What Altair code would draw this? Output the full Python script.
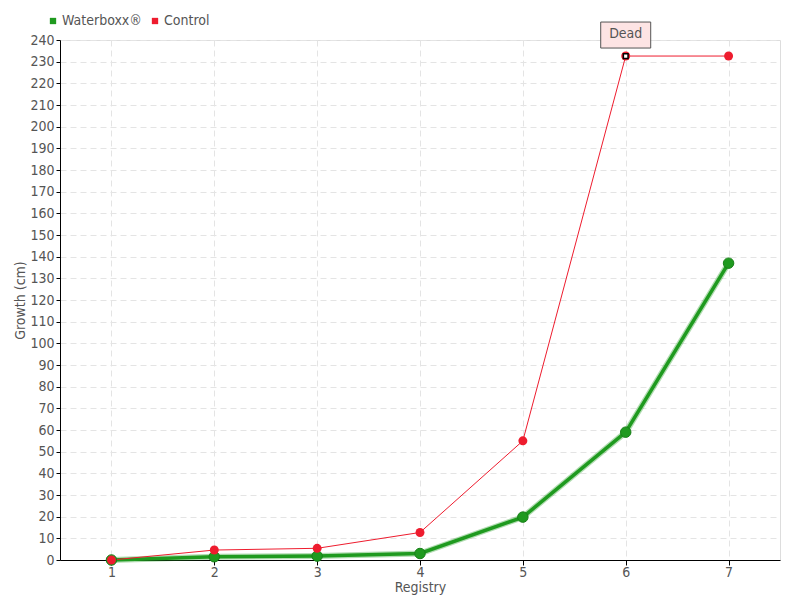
import altair as alt
import pandas as pd

registry = [1, 2, 3, 4, 5, 6, 7]
waterboxx = [0, 1.5, 1.8, 3, 19.8, 59, 137]
control = [0, 4.6, 5.4, 12.7, 55, 232.6, 232.6]
series_names = ["Waterboxx®", "Control"]
colors = ["#1f9a1f", "#ee1c2e"]
y_ticks = list(range(0, 241, 10))
note_text = "Dead"
note_index = 5

rows = []
for r, v in zip(registry, waterboxx):
    rows.append({"Registry": r, "Growth": v, "Series": series_names[0]})
for r, v in zip(registry, control):
    rows.append({"Registry": r, "Growth": v, "Series": series_names[1]})
df = pd.DataFrame(rows)

font = "DejaVu Sans Condensed"
txt = "#555555"

x_enc = alt.X("Registry:Q",
              scale=alt.Scale(domain=[0.5, 7.5], nice=False, zero=False),
              axis=alt.Axis(title="Registry", values=registry, format="d",
                            labelAngle=0, grid=True, labelOverlap=False,
                            gridDash=[6, 4], gridColor="#e4e4e4",
                            domainColor="#000", tickColor="#000",
                            labelColor=txt, titleColor=txt, labelFont=font,
                            titleFont=font, labelFontSize=14, titleFontSize=14,
                            titleFontWeight="normal", titlePadding=1,
                            labelPadding=0, tickSize=5))
y_enc = alt.Y("Growth:Q", scale=alt.Scale(domain=[0, 240], nice=False),
              axis=alt.Axis(title="Growth (cm)", values=y_ticks, grid=True,
                            labelOverlap=False,
                            gridDash=[6, 4], gridColor="#e4e4e4",
                            domainColor="#000", tickColor="#000",
                            labelColor=txt, titleColor=txt, labelFont=font,
                            titleFont=font, labelFontSize=14, titleFontSize=14,
                            titleFontWeight="normal", titlePadding=2,
                            labelPadding=2, tickSize=4))
color_enc = alt.Color("Series:N", sort=series_names,
                      scale=alt.Scale(domain=series_names, range=colors),
                      legend=alt.Legend(title=None, orient="none", legendX=-14,
                                        legendY=-26, direction="horizontal",
                                        symbolType="square", symbolSize=40,
                                        symbolOpacity=1,
                                        labelFont=font, labelFontSize=14,
                                        labelColor=txt, columnPadding=6,
                                        symbolStrokeWidth=0, labelOffset=2))

base = alt.Chart(df).encode(x=x_enc, y=y_enc, color=color_enc)

wb = base.transform_filter(alt.datum.Series == series_names[0])
ct = base.transform_filter(alt.datum.Series == series_names[1])

wb_shadow = wb.mark_line(strokeWidth=6, opacity=0.35)
wb_line = wb.mark_line(strokeWidth=3.5)
wb_pts = wb.mark_circle(size=110, opacity=1, stroke="#188018", strokeWidth=1)
ct_line = ct.mark_line(strokeWidth=1)
ct_pts = ct.mark_circle(size=80, opacity=1)

note_df = pd.DataFrame({"Registry": [registry[note_index]],
                        "Growth": [control[note_index]],
                        "label": [note_text]})
nb = alt.Chart(note_df).encode(x=x_enc, y=y_enc)
marker = nb.mark_square(size=22, color="white", stroke="black",
                        strokeWidth=1.5, opacity=1)
box = nb.mark_rect(width=50, height=26, yOffset=-21, fill="#fde4e4",
                   stroke="#555", strokeWidth=1)
box_txt = nb.mark_text(yOffset=-22, font=font, fontSize=14,
                       color=txt).encode(text="label:N")

chart = alt.layer(wb_shadow, wb_line, ct_line, wb_pts, ct_pts, marker, box,
                  box_txt).properties(
    width=720, height=520,
    padding={"left": 52, "top": 32, "right": 12, "bottom": 40},
    autosize=alt.AutoSizeParams(type="none"),
).configure_view(stroke=None).configure(background="white")

chart.save("out.html", embed_options={"renderer": "svg", "actions": False})
